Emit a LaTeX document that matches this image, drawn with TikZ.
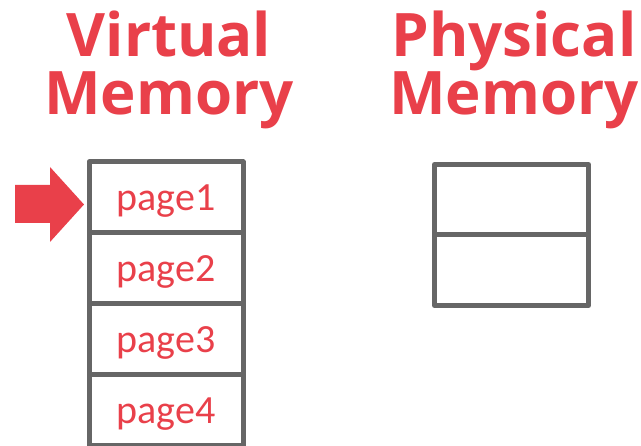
\documentclass[tikz,border=0pt]{standalone}
\usepackage{fontspec}
\setmainfont{Carlito}
\newfontfamily\headfont[BoldFont={Open Sans Bold}]{Open Sans}
\usepackage{tikz}
\usetikzlibrary{positioning}
\definecolor{memred}{RGB}{233,64,74}
\definecolor{memgray}{RGB}{102,102,102}

\begin{document}
\begin{tikzpicture}[x=1pt, y=1pt, node distance=0pt]
	\tikzstyle{slot}=[draw=memgray, line width=5pt, line join=round, outer sep=0pt, minimum width=154pt, minimum height=71pt, inner sep=0pt, text height=30pt, text depth=3pt, text=memred, font=\fontsize{40}{42}\selectfont]
	\tikzstyle{heading}=[text=memred, align=center, inner sep=0pt, font=\headfont\bfseries\fontsize{60}{58}\selectfont]
	\useasboundingbox (0,0) rectangle (641,446);
	% virtual memory
	\node[heading, anchor=base] (vtitle) at (169,331) {Virtual\\Memory};
	\node[slot] (page1) at (166,248.5) {page1};
	\node[slot] (page2)[below=of page1] {page2};
	\node[slot] (page3)[below=of page2] {page3};
	\node[slot] (page4)[below=of page3] {page4};
	% physical memory
	\node[heading, anchor=base] (ptitle) at (514,331) {Physical\\Memory};
	\node[slot, minimum height=70.5pt] (frame1) at (511.5,246.25) {};
	\node[slot, minimum height=70.5pt] (frame2)[below=of frame1] {};
	% pointer
	\fill[memred] (15,261) -- (50,261) -- (50,279) -- (84,241.5) -- (50,204) -- (50,223) -- (15,223) -- cycle;
\end{tikzpicture}
\end{document}
